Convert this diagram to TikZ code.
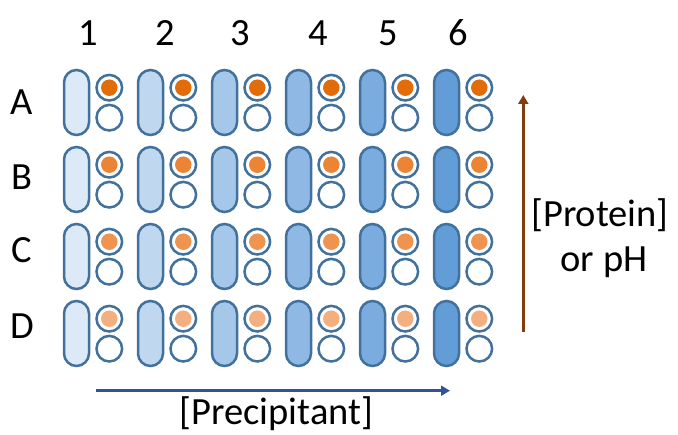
\documentclass[tikz,border=0pt]{standalone}
\usepackage{fontspec}
\setmainfont{Carlito}
\usetikzlibrary{arrows.meta}
\definecolor{edgeblue}{HTML}{41719C}
\definecolor{cA}{HTML}{DCE9F6}
\definecolor{cB}{HTML}{BFD8F0}
\definecolor{cC}{HTML}{A5C7EA}
\definecolor{cD}{HTML}{8FB9E4}
\definecolor{cE}{HTML}{7BACDF}
\definecolor{cF}{HTML}{629DD7}
\definecolor{dA}{HTML}{E36C0A}
\definecolor{dB}{HTML}{EB8434}
\definecolor{dC}{HTML}{EE9450}
\definecolor{dD}{HTML}{F3AF80}
\definecolor{precip}{HTML}{2F5597}
\definecolor{prot}{HTML}{843C0C}
\tikzset{
  pill/.style={draw=edgeblue, line width=2.5pt, rounded corners=12.5pt, minimum width=25pt, minimum height=65pt, inner sep=0pt},
  well/.style={draw=edgeblue, line width=2.5pt, circle, fill=white, minimum size=25.6pt, inner sep=0pt},
  dot/.style={circle, minimum size=16.5pt, inner sep=0pt},
  lbl/.style={font=\fontsize{38.5}{42}\selectfont, anchor=base, inner sep=0pt},
  axis/.style={line width=3pt, -{Triangle[length=9pt,width=10pt]}}
}
\begin{document}
\begin{tikzpicture}[x=1pt,y=-1pt]
\useasboundingbox (0,0) rectangle (678,435);
\foreach \col/\fc [count=\i from 0] in {1/cA,2/cB,3/cC,4/cD,5/cE,6/cF}{
  \foreach \row/\dc [count=\j from 0] in {A/dA,B/dB,C/dC,D/dD}{
    \node[pill, fill=\fc] (p\row\col) at ({76.5+74*\i},{102.5+77*\j}) {};
    \node[well] (t\row\col) at ({109.3+74*\i},{87.7+77*\j}) {};
    \node[dot, fill=\dc] (d\row\col) at (t\row\col) {};
    \node[well] (b\row\col) at ({109.3+74*\i},{117.7+77*\j}) {};
  }
}
\node[lbl] (c1) at (88,46) {1};
\node[lbl] (c2) at (165,46) {2};
\node[lbl] (c3) at (240.7,46) {3};
\node[lbl] (c4) at (318,46) {4};
\node[lbl] (c5) at (388,46) {5};
\node[lbl] (c6) at (458,46) {6};
\node[lbl] (rA) at (22,115) {A};
\node[lbl] (rB) at (22,190) {B};
\node[lbl] (rC) at (22,263) {C};
\node[lbl] (rD) at (22,339) {D};
\coordinate (ps) at (96,390.7);
\coordinate (pe) at (450,390.7);
\draw[axis, precip] (ps) -- (pe);
\node[lbl] (ptxt) at (276.5,424.5) {[Precipitant]};
\coordinate (qs) at (523.3,331.7);
\coordinate (qe) at (523.3,95);
\draw[axis, prot] (qs) -- (qe);
\node[lbl] (qtxt1) at (600,226.7) {[Protein]};
\node[lbl] (qtxt2) at (604,271.7) {or pH};
\end{tikzpicture}
\end{document}
